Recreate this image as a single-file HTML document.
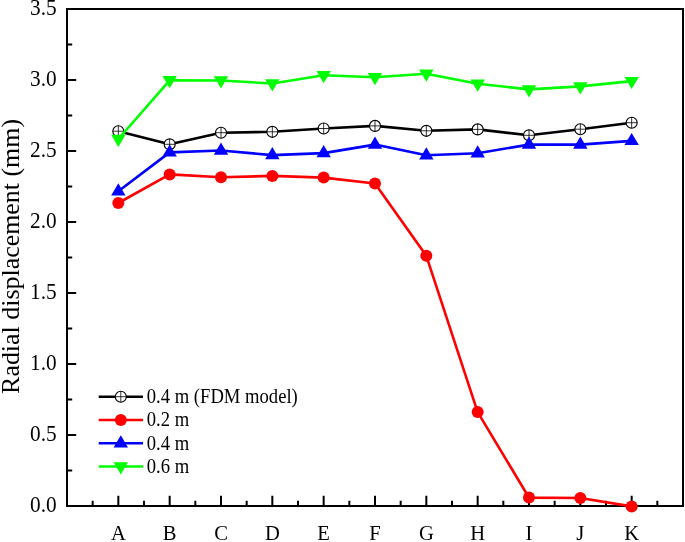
<!DOCTYPE html>
<html><head><meta charset="utf-8"><title>Radial displacement</title>
<style>
html,body{margin:0;padding:0;background:#fff;}
body{width:685px;height:542px;overflow:hidden;}
svg{display:block;will-change:transform;}
text{font-family:"Liberation Serif",serif;fill:#000;}
</style></head><body>
<svg width="685" height="542" viewBox="0 0 685 542">
<rect width="685" height="542" fill="#fff"/>
<rect x="67" y="9" width="616" height="497" fill="none" stroke="#000" stroke-width="2"/>
<path d="M92.67 506V500.8M118.33 506V495.8M144 506V500.8M169.67 506V495.8M195.33 506V500.8M221 506V495.8M246.67 506V500.8M272.33 506V495.8M298 506V500.8M323.67 506V495.8M349.33 506V500.8M375 506V495.8M400.67 506V500.8M426.33 506V495.8M452 506V500.8M477.67 506V495.8M503.33 506V500.8M529 506V495.8M554.67 506V500.8M580.33 506V495.8M606 506V500.8M631.67 506V495.8M657.33 506V500.8M67 506H76.2M67 470.5H72.2M67 435H76.2M67 399.5H72.2M67 364H76.2M67 328.5H72.2M67 293H76.2M67 257.5H72.2M67 222H76.2M67 186.5H72.2M67 151H76.2M67 115.5H72.2M67 80H76.2M67 44.5H72.2M67 9H76.2" stroke="#000" stroke-width="2" fill="none"/>
<text transform="translate(56.7,512.2) scale(1,1.085)" font-size="21.3" text-anchor="end">0.0</text>
<text transform="translate(56.7,441.2) scale(1,1.085)" font-size="21.3" text-anchor="end">0.5</text>
<text transform="translate(56.7,370.2) scale(1,1.085)" font-size="21.3" text-anchor="end">1.0</text>
<text transform="translate(56.7,299.2) scale(1,1.085)" font-size="21.3" text-anchor="end">1.5</text>
<text transform="translate(56.7,228.2) scale(1,1.085)" font-size="21.3" text-anchor="end">2.0</text>
<text transform="translate(56.7,157.2) scale(1,1.085)" font-size="21.3" text-anchor="end">2.5</text>
<text transform="translate(56.7,86.2) scale(1,1.085)" font-size="21.3" text-anchor="end">3.0</text>
<text transform="translate(56.7,15.2) scale(1,1.085)" font-size="21.3" text-anchor="end">3.5</text>
<text transform="translate(118.33,540.2) scale(1,1.03)" font-size="20.6" text-anchor="middle">A</text>
<text transform="translate(169.67,540.2) scale(1,1.03)" font-size="20.6" text-anchor="middle">B</text>
<text transform="translate(221,540.2) scale(1,1.03)" font-size="20.6" text-anchor="middle">C</text>
<text transform="translate(272.33,540.2) scale(1,1.03)" font-size="20.6" text-anchor="middle">D</text>
<text transform="translate(323.67,540.2) scale(1,1.03)" font-size="20.6" text-anchor="middle">E</text>
<text transform="translate(375,540.2) scale(1,1.03)" font-size="20.6" text-anchor="middle">F</text>
<text transform="translate(426.33,540.2) scale(1,1.03)" font-size="20.6" text-anchor="middle">G</text>
<text transform="translate(477.67,540.2) scale(1,1.03)" font-size="20.6" text-anchor="middle">H</text>
<text transform="translate(529,540.2) scale(1,1.03)" font-size="20.6" text-anchor="middle">I</text>
<text transform="translate(580.33,540.2) scale(1,1.03)" font-size="20.6" text-anchor="middle">J</text>
<text transform="translate(631.67,540.2) scale(1,1.03)" font-size="20.6" text-anchor="middle">K</text>
<text transform="translate(19.3,256.4) rotate(-90) scale(1.058,1)" font-size="24.5" text-anchor="middle">Radial displacement (mm)</text>
<polyline points="118.33,131.2 169.67,144.3 221,132.7 272.33,131.8 323.67,128.5 375,125.9 426.33,130.8 477.67,129.4 529,135.3 580.33,129.2 631.67,122.7" fill="none" stroke="#000" stroke-width="2.6" stroke-linejoin="round"/>
<circle cx="118.33" cy="131.2" r="5.5" fill="#fff" stroke="#000" stroke-width="1.15"/><path d="M112.83 131.2H123.83M118.33 125.7V136.7" stroke="#000" stroke-width="0.8" fill="none"/><circle cx="169.67" cy="144.3" r="5.5" fill="#fff" stroke="#000" stroke-width="1.15"/><path d="M164.17 144.3H175.17M169.67 138.8V149.8" stroke="#000" stroke-width="0.8" fill="none"/><circle cx="221" cy="132.7" r="5.5" fill="#fff" stroke="#000" stroke-width="1.15"/><path d="M215.5 132.7H226.5M221 127.2V138.2" stroke="#000" stroke-width="0.8" fill="none"/><circle cx="272.33" cy="131.8" r="5.5" fill="#fff" stroke="#000" stroke-width="1.15"/><path d="M266.83 131.8H277.83M272.33 126.3V137.3" stroke="#000" stroke-width="0.8" fill="none"/><circle cx="323.67" cy="128.5" r="5.5" fill="#fff" stroke="#000" stroke-width="1.15"/><path d="M318.17 128.5H329.17M323.67 123V134" stroke="#000" stroke-width="0.8" fill="none"/><circle cx="375" cy="125.9" r="5.5" fill="#fff" stroke="#000" stroke-width="1.15"/><path d="M369.5 125.9H380.5M375 120.4V131.4" stroke="#000" stroke-width="0.8" fill="none"/><circle cx="426.33" cy="130.8" r="5.5" fill="#fff" stroke="#000" stroke-width="1.15"/><path d="M420.83 130.8H431.83M426.33 125.3V136.3" stroke="#000" stroke-width="0.8" fill="none"/><circle cx="477.67" cy="129.4" r="5.5" fill="#fff" stroke="#000" stroke-width="1.15"/><path d="M472.17 129.4H483.17M477.67 123.9V134.9" stroke="#000" stroke-width="0.8" fill="none"/><circle cx="529" cy="135.3" r="5.5" fill="#fff" stroke="#000" stroke-width="1.15"/><path d="M523.5 135.3H534.5M529 129.8V140.8" stroke="#000" stroke-width="0.8" fill="none"/><circle cx="580.33" cy="129.2" r="5.5" fill="#fff" stroke="#000" stroke-width="1.15"/><path d="M574.83 129.2H585.83M580.33 123.7V134.7" stroke="#000" stroke-width="0.8" fill="none"/><circle cx="631.67" cy="122.7" r="5.5" fill="#fff" stroke="#000" stroke-width="1.15"/><path d="M626.17 122.7H637.17M631.67 117.2V128.2" stroke="#000" stroke-width="0.8" fill="none"/>
<polyline points="118.33,203 169.67,174.4 221,177.3 272.33,175.9 323.67,177.6 375,183.5 426.33,255.8 477.67,412.1 529,497.6 580.33,498 631.67,506.4" fill="none" stroke="#f00" stroke-width="2.6" stroke-linejoin="round"/>
<circle cx="118.33" cy="203" r="6" fill="#f00"/><circle cx="169.67" cy="174.4" r="6" fill="#f00"/><circle cx="221" cy="177.3" r="6" fill="#f00"/><circle cx="272.33" cy="175.9" r="6" fill="#f00"/><circle cx="323.67" cy="177.6" r="6" fill="#f00"/><circle cx="375" cy="183.5" r="6" fill="#f00"/><circle cx="426.33" cy="255.8" r="6" fill="#f00"/><circle cx="477.67" cy="412.1" r="6" fill="#f00"/><circle cx="529" cy="497.6" r="6" fill="#f00"/><circle cx="580.33" cy="498" r="6" fill="#f00"/><circle cx="631.67" cy="506.4" r="6" fill="#f00"/>
<polyline points="118.33,191.3 169.67,152.4 221,150.5 272.33,155.1 323.67,153.1 375,144.6 426.33,155.3 477.67,153.2 529,144.6 580.33,144.6 631.67,140.9" fill="none" stroke="#00f" stroke-width="2.6" stroke-linejoin="round"/>
<path d="M118.33 183.3L125.53 195.5L111.13 195.5Z" fill="#00f"/><path d="M169.67 144.4L176.87 156.6L162.47 156.6Z" fill="#00f"/><path d="M221 142.5L228.2 154.7L213.8 154.7Z" fill="#00f"/><path d="M272.33 147.1L279.53 159.3L265.13 159.3Z" fill="#00f"/><path d="M323.67 145.1L330.87 157.3L316.47 157.3Z" fill="#00f"/><path d="M375 136.6L382.2 148.8L367.8 148.8Z" fill="#00f"/><path d="M426.33 147.3L433.53 159.5L419.13 159.5Z" fill="#00f"/><path d="M477.67 145.2L484.87 157.4L470.47 157.4Z" fill="#00f"/><path d="M529 136.6L536.2 148.8L521.8 148.8Z" fill="#00f"/><path d="M580.33 136.6L587.53 148.8L573.13 148.8Z" fill="#00f"/><path d="M631.67 132.9L638.87 145.1L624.47 145.1Z" fill="#00f"/>
<polyline points="118.33,139 169.67,80.3 221,80.5 272.33,83.5 323.67,75.3 375,77.3 426.33,73.8 477.67,83.7 529,89.4 580.33,86.4 631.67,81.1" fill="none" stroke="#0f0" stroke-width="2.6" stroke-linejoin="round"/>
<path d="M118.33 147L125.53 134.8L111.13 134.8Z" fill="#0f0"/><path d="M169.67 88.3L176.87 76.1L162.47 76.1Z" fill="#0f0"/><path d="M221 88.5L228.2 76.3L213.8 76.3Z" fill="#0f0"/><path d="M272.33 91.5L279.53 79.3L265.13 79.3Z" fill="#0f0"/><path d="M323.67 83.3L330.87 71.1L316.47 71.1Z" fill="#0f0"/><path d="M375 85.3L382.2 73.1L367.8 73.1Z" fill="#0f0"/><path d="M426.33 81.8L433.53 69.6L419.13 69.6Z" fill="#0f0"/><path d="M477.67 91.7L484.87 79.5L470.47 79.5Z" fill="#0f0"/><path d="M529 97.4L536.2 85.2L521.8 85.2Z" fill="#0f0"/><path d="M580.33 94.4L587.53 82.2L573.13 82.2Z" fill="#0f0"/><path d="M631.67 89.1L638.87 76.9L624.47 76.9Z" fill="#0f0"/>
<path d="M98.7 396.7H143" stroke="#000" stroke-width="2.6"/><circle cx="120.8" cy="396.7" r="5.5" fill="#fff" stroke="#000" stroke-width="1.15"/><path d="M115.3 396.7H126.3M120.8 391.2V402.2" stroke="#000" stroke-width="0.8" fill="none"/><text transform="translate(146.8,403.1) scale(1,1.08)" font-size="18.64">0.4 m (FDM model)</text>
<path d="M98.7 420H143" stroke="#f00" stroke-width="2.6"/><circle cx="120.8" cy="420" r="6" fill="#f00"/><text transform="translate(146.8,426.4) scale(1,1.08)" font-size="18.64">0.2 m</text>
<path d="M98.7 443.3H143" stroke="#00f" stroke-width="2.6"/><path d="M120.8 435.3L128 447.5L113.6 447.5Z" fill="#00f"/><text transform="translate(146.8,449.7) scale(1,1.08)" font-size="18.64">0.4 m</text>
<path d="M98.7 466.5H143" stroke="#0f0" stroke-width="2.6"/><path d="M120.8 474.5L128 462.3L113.6 462.3Z" fill="#0f0"/><text transform="translate(146.8,472.9) scale(1,1.08)" font-size="18.64">0.6 m</text>
</svg>
</body></html>
